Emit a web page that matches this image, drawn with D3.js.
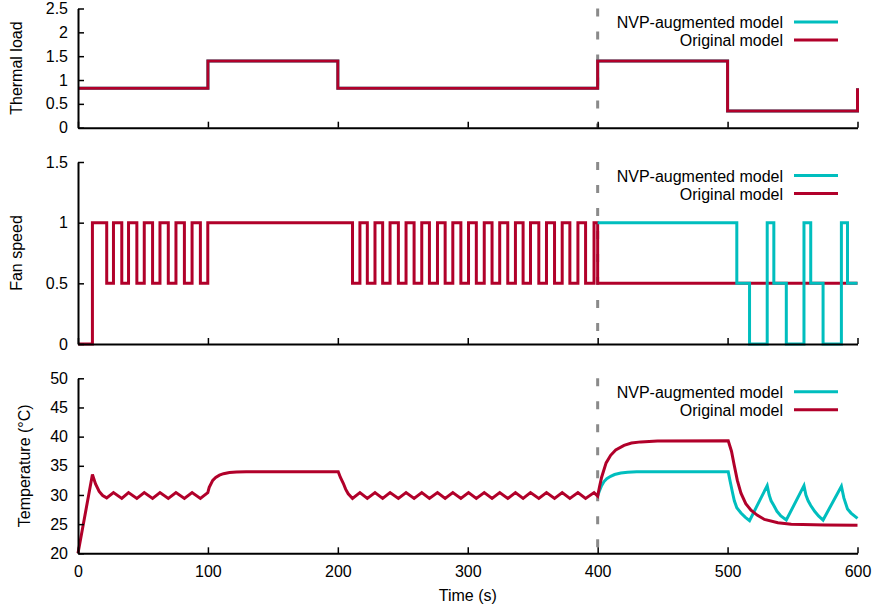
<!DOCTYPE html>
<html>
<head>
<meta charset="utf-8">
<script src="https://cdn.jsdelivr.net/npm/d3@7"></script>
<style>
  body { margin: 0; background: #fff; }
  text { font-family: "Liberation Sans", Arial, Helvetica, sans-serif; fill: #000; }
</style>
</head>
<body>
<div id="chart"></div>
<script>
// ---- data ----
var seriesNames = ["NVP-augmented model", "Original model"]
var timeTicks = [0, 100, 200, 300, 400, 500, 600]
var loadTicks = [0, 0.5, 1, 1.5, 2, 2.5]
var fanTicks = [0, 0.5, 1, 1.5]
var tempTicks = [20, 25, 30, 35, 40, 45, 50]

// thermal load, step after (same for both models)
var loadOrig = [[0, 0.83], [100, 1.4], [200, 0.83], [400, 1.4], [500, 0.35], [600, 0.83]]
var loadNvp = [[0, 0.83], [100, 1.4], [200, 0.83], [400, 1.4], [500, 0.35], [600, 0.83]]

// fan speed, step after
var fanOrig = [
  [0, 0], [11.1, 1], [22.1, 0.5], [27.3, 1], [33.7, 0.5], [38.9, 1], [45.3, 0.5], [51.0, 1],
  [57.4, 0.5], [63.1, 1], [69.5, 0.5], [75.4, 1], [81.9, 0.5], [87.8, 1], [94.2, 0.5], [99.9, 1],
  [211.3, 0.5], [217.0, 1], [222.7, 0.5], [228.6, 1], [234.5, 0.5], [240.2, 1], [246.6, 0.5],
  [252.5, 1], [258.7, 0.5], [264.6, 1], [270.5, 0.5], [276.7, 1], [282.6, 0.5], [288.5, 1],
  [294.7, 0.5], [300.6, 1], [306.6, 0.5], [312.7, 1], [318.7, 0.5], [324.6, 1], [330.8, 0.5],
  [336.7, 1], [342.6, 0.5], [348.3, 1], [354.7, 0.5], [360.6, 1], [366.8, 0.5], [372.7, 1],
  [378.6, 0.5], [384.8, 1], [390.7, 0.5], [397.2, 1], [400, 0.5], [600, 0.5]
]
var fanNvp = [
  [400, 1], [507.1, 0.5], [516.9, 0], [530.5, 1], [535.6, 0.5], [545.2, 0], [558.8, 1],
  [564.0, 0.5], [573.5, 0], [587.6, 1], [592.3, 0.5], [600, 0.5]
]

// temperature (°C)
var tempOrig = [
  [0, 20], [11.1, 33.5], [13.5, 31.9], [16.3, 30.6], [19, 29.9], [22.1, 29.5],
  [27.3, 30.4], [33.7, 29.4], [38.9, 30.4], [45.3, 29.4], [51.0, 30.4], [57.4, 29.4],
  [63.1, 30.4], [69.5, 29.4], [75.4, 30.4], [81.9, 29.4], [87.8, 30.4], [94.2, 29.4], [99.9, 30.4],
  [101, 31.3], [103.7, 32.5], [106, 33.0], [108.9, 33.4], [112, 33.65], [116.6, 33.85],
  [122, 33.95], [129.5, 34.0], [200.3, 34.0],
  [202, 33.0], [204.2, 32.0], [206, 31.0], [208, 30.2], [211.3, 29.4],
  [217.0, 30.4], [222.7, 29.4], [228.6, 30.4], [234.5, 29.4], [240.2, 30.4], [246.6, 29.4],
  [252.5, 30.4], [258.7, 29.4], [264.6, 30.4], [270.5, 29.4], [276.7, 30.4], [282.6, 29.4],
  [288.5, 30.4], [294.7, 29.4], [300.6, 30.4], [306.6, 29.4], [312.7, 30.4], [318.7, 29.4],
  [324.6, 30.4], [330.8, 29.4], [336.7, 30.4], [342.6, 29.4], [348.3, 30.4], [354.7, 29.4],
  [360.6, 30.4], [366.8, 29.4], [372.7, 30.4], [378.6, 29.4], [384.8, 30.4], [390.7, 29.4],
  [397.2, 30.4], [400, 29.8],
  [401.5, 31.5], [403, 33.0], [406.5, 35.5], [410, 36.8], [413.9, 37.7], [420.3, 38.5],
  [426, 38.9], [433.2, 39.1], [446, 39.25], [500.5, 39.3],
  [503, 37.5], [505.2, 35.0], [507.5, 32.5], [510.3, 30.3], [514, 28.5], [518, 27.4],
  [523, 26.5], [528.4, 25.8], [538.7, 25.25], [549, 25.0], [575, 24.85], [600, 24.8]
]
var tempNvp = [
  [400, 29.8], [401.5, 30.8], [403, 31.6], [404.9, 32.3], [407, 32.8], [410, 33.2],
  [413, 33.5], [417.8, 33.75], [423, 33.9], [430, 34.0], [500.5, 34.0],
  [502, 32.3], [503.9, 30.3], [505.2, 29.0], [507.1, 27.8], [510.3, 26.9], [513.5, 26.2], [516.9, 25.6],
  [530.5, 31.6], [532, 30.0], [533.5, 29.0], [535.6, 28.2], [538, 27.2], [541, 26.4], [545.2, 25.7],
  [558.8, 31.6], [560.3, 30.0], [562, 29.0], [564.0, 28.2], [567, 27.2], [570, 26.4], [573.5, 25.7],
  [587.6, 31.5], [589.5, 29.5], [592.3, 27.6], [595, 26.9], [600, 26.0]
]

// ---- layout ----
var width = 874
var height = 612
var red = "#b1002a"
var cyan = "#00bebe"

var svg = d3.select("#chart")
  .append("svg")
    .attr("width", width)
    .attr("height", height)

var x = d3.scaleLinear().domain([0, 600]).range([78, 857.5])

var panels = [
  { label: "Thermal load", y: d3.scaleLinear().domain([0, 2.5]).range([127.7, 8.5]), ticks: loadTicks,
    nvp: loadNvp, orig: loadOrig, step: true, labelX: 22, cyanOnTop: false },
  { label: "Fan speed", y: d3.scaleLinear().domain([0, 1.5]).range([344, 162]), ticks: fanTicks,
    nvp: fanNvp, orig: fanOrig, step: true, labelX: 22, cyanOnTop: true },
  { label: "Temperature (°C)", y: d3.scaleLinear().domain([20, 50]).range([553.3, 378.3]), ticks: tempTicks,
    nvp: tempNvp, orig: tempOrig, step: false, labelX: 30, cyanOnTop: false }
]

panels.forEach(function(p, i) {
  var g = svg.append("g")
  var top = p.y.range()[1]
  var bottom = p.y.range()[0]

  // dashed marker at t = 400
  g.append("line")
    .attr("x1", x(400)).attr("x2", x(400))
    .attr("y1", top).attr("y2", bottom)
    .attr("stroke", "#8a8a8a")
    .attr("stroke-width", 3)
    .style("stroke-dasharray", "8,15")

  // series lines
  var line = d3.line()
    .x(function(d){ return x(d[0]) })
    .y(function(d){ return p.y(d[1]) })
    .curve(p.step ? d3.curveStepAfter : d3.curveLinear)

  var order = p.cyanOnTop ? [[p.orig, red], [p.nvp, cyan]] : [[p.nvp, cyan], [p.orig, red]]
  order.forEach(function(s) {
    g.append("path")
      .datum(s[0])
      .attr("d", line)
      .attr("fill", "none")
      .attr("stroke", s[1])
      .attr("stroke-width", 3)
      .attr("stroke-linejoin", "miter")
  })

  // axes
  var yAxis = d3.axisLeft(p.y)
    .tickValues(p.ticks)
    .tickFormat(function(d){ return String(d) })
    .tickSizeInner(-6)
    .tickSizeOuter(0)
    .tickPadding(10)
  var ya = g.append("g")
    .attr("transform", "translate(" + x(0) + ",0)")
    .call(yAxis)

  var xAxis = d3.axisBottom(x)
    .tickValues(timeTicks)
    .tickSizeInner(-6)
    .tickSizeOuter(0)
    .tickPadding(12)
  if (i < 2) xAxis.tickFormat("")
  var xa = g.append("g")
    .attr("transform", "translate(0," + bottom + ")")
    .call(xAxis)

  ;[ya, xa].forEach(function(a) {
    a.select(".domain").attr("stroke", "#000").attr("stroke-width", 2)
    a.selectAll(".tick line").attr("stroke", "#000").attr("stroke-width", 1.5)
    a.selectAll(".tick text")
      .style("font-size", "16px")
      .style("font-family", "'Liberation Sans', Arial, sans-serif")
      .attr("fill", "#000")
  })

  // y label
  g.append("text")
    .attr("transform", "translate(" + p.labelX + "," + ((top + bottom) / 2) + ") rotate(-90)")
    .attr("text-anchor", "middle")
    .style("font-size", "16px")
    .text(p.label)

  // legend
  var colors = [cyan, red]
  seriesNames.forEach(function(name, k) {
    var base = top + 19.5 + k * 18
    g.append("text")
      .attr("x", 783)
      .attr("y", base)
      .attr("text-anchor", "end")
      .style("font-size", "16px")
      .text(name)
    g.append("line")
      .attr("x1", 794).attr("x2", 838)
      .attr("y1", base - 6).attr("y2", base - 6)
      .attr("stroke", colors[k])
      .attr("stroke-width", 3)
  })
})

// x axis title
svg.append("text")
  .attr("x", (x(0) + x(600)) / 2)
  .attr("y", 601)
  .attr("text-anchor", "middle")
  .style("font-size", "16px")
  .text("Time (s)")
</script>
</body>
</html>
